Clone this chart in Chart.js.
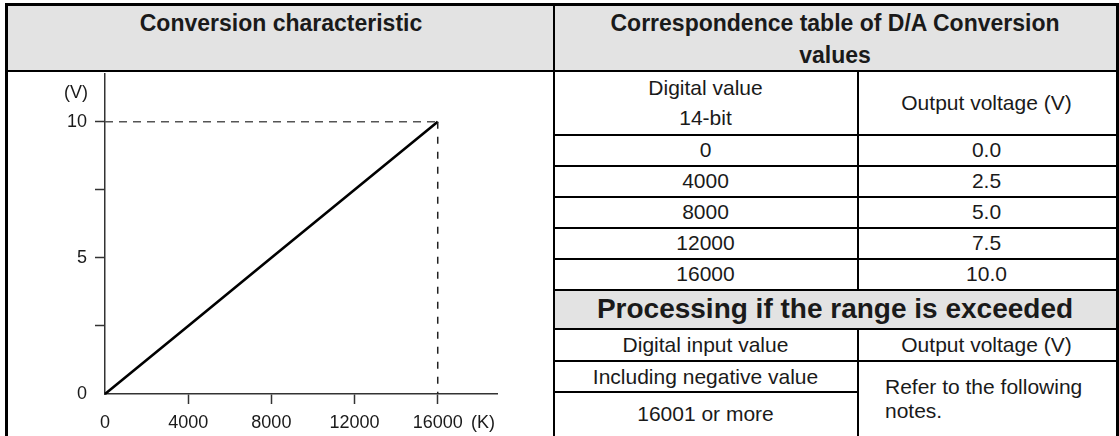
<!DOCTYPE html>
<html>
<head>
<meta charset="utf-8">
<script src="https://cdn.jsdelivr.net/npm/chart.js@4/dist/chart.umd.min.js"></script>
<style>
  body { margin: 0; background: #fff; font-family: "Liberation Sans", Arial, sans-serif; color: #1a1a1a; }
  .abs { position: absolute; }
  .line { position: absolute; background: #000; }
  .fill { position: absolute; background: #e3e3e3; }
  .cell { position: absolute; display: flex; align-items: center; justify-content: center; text-align: center; font-size: 21px; white-space: nowrap; }
  .bold { font-weight: bold; font-size: 23px; }
  #plot { position: absolute; left: 8px; top: 72px; }
</style>
</head>
<body>
<div id="table"></div>
<canvas id="plot" width="545" height="364"></canvas>
<div class="abs" style="left:40px;top:82px;width:48px;text-align:right;font-size:18px;">(V)</div>
<div class="abs" style="left:471px;top:412px;font-size:18px;">(K)</div>
<script>
// D/A conversion: digital value (14-bit) -> output voltage
const digitalValues = [0, 4000, 8000, 12000, 16000];
const outputVoltages = [0.0, 2.5, 5.0, 7.5, 10.0];

const xTicks = [0, 4000, 8000, 12000, 16000];
const yTicks = [0, 2.5, 5, 7.5, 10];
const yTickLabels = { 0: '0', 5: '5', 10: '10' };

const rangeRows = ['Including negative value', '16001 or more'];

const FONT = '"Liberation Sans", Arial, sans-serif';

// --- table frame ---
const table = document.getElementById('table');
function box(cls, x, y, w, h, html) {
    const d = document.createElement('div');
    d.className = cls;
    d.style.left = x + 'px';
    d.style.top = y + 'px';
    d.style.width = w + 'px';
    d.style.height = h + 'px';
    if (html !== undefined) d.innerHTML = html;
    table.appendChild(d);
    return d;
}

const L = 5, R = 1119, MID = 554, SUB = 857;
const rowTops = [134, 165, 196, 227, 258, 289];

// grey header backgrounds
box('fill', L, 3, R - L, 68);
box('fill', MID, 289, R - MID, 40);

// header texts
box('cell bold', L + 3, 7, MID - L - 3, 32, 'Conversion characteristic');
const h2 = box('cell bold', MID, 7, R - MID - 3, 64, 'Correspondence table of D/A Conversion<br>values');
h2.style.lineHeight = '32px';
h2.style.alignItems = 'flex-start';

// column header of the value table
const dv = box('cell', MID, 71, SUB - MID, 63, 'Digital value<br>14-bit');
dv.style.lineHeight = '30px';
box('cell', SUB, 71, R - 3 - SUB, 63, 'Output voltage (V)');

// value rows
digitalValues.forEach((v, i) => {
    box('cell', MID, rowTops[i], SUB - MID, 31, String(v));
    box('cell', SUB, rowTops[i], R - 3 - SUB, 31, outputVoltages[i].toFixed(1));
});

// out-of-range section
const proc = box('cell bold', MID, 289, R - 3 - MID, 40, 'Processing if the range is exceeded');
proc.style.fontSize = '28px';
box('cell', MID, 329, SUB - MID, 32, 'Digital input value');
box('cell', SUB, 329, R - 3 - SUB, 32, 'Output voltage (V)');
box('cell', MID, 361, SUB - MID, 31, rangeRows[0]);
box('cell', MID, 392, SUB - MID, 44, rangeRows[1]);
const note = box('cell', SUB + 28, 361, R - SUB - 40, 75, 'Refer to the following<br>notes.');
note.style.justifyContent = 'flex-start';
note.style.textAlign = 'left';
note.style.lineHeight = '24px';

// lines
box('line', L, 3, R - L, 3);
box('line', L, 3, 3, 433);
box('line', R - 3, 3, 3, 433);
box('line', L, 70, R - L, 2);
box('line', MID - 1, 3, 2, 433);
rowTops.forEach(y => box('line', MID, y, R - MID, 1.5));
box('line', MID, 328, R - MID, 1.5);
box('line', MID, 360, R - MID, 1.5);
box('line', MID, 391, SUB - MID, 1.5);
box('line', SUB, 71, 1.5, 218);
box('line', SUB, 329, 1.5, 107);

// --- conversion characteristic ---
const conversion = digitalValues.map((v, i) => ({ x: v, y: outputVoltages[i] }));
const full = conversion[conversion.length - 1];

const tickColor = ctx => (ctx.tick && ctx.tick.value === 0) ? 'rgba(0,0,0,0)' : '#333';

const ctx = document.getElementById('plot').getContext('2d');
new Chart(ctx, {
    type: 'line',
    data: {
        datasets: [{
            data: [{ x: 0, y: full.y }, { x: full.x, y: full.y }],
            borderColor: '#555',
            borderWidth: 1.5,
            borderDash: [8, 6],
            pointRadius: 0
        }, {
            data: [{ x: full.x, y: full.y }, { x: full.x, y: 0 }],
            borderColor: '#222',
            borderWidth: 1.5,
            borderDash: [7, 8],
            pointRadius: 0
        }, {
            data: conversion,
            borderColor: '#000',
            borderWidth: 2.6,
            pointRadius: 0,
            tension: 0
        }]
    },
    options: {
        responsive: false,
        animation: false,
        clip: false,
        layout: { padding: { top: 2, right: 56, left: 0, bottom: 0 } },
        plugins: { legend: { display: false }, tooltip: { enabled: false } },
        scales: {
            x: {
                type: 'linear',
                min: 0,
                max: 18850,
                afterBuildTicks: s => { s.ticks = xTicks.map(v => ({ value: v })); },
                afterFit: s => { s.height = 42; s.paddingLeft = 0; s.paddingRight = 0; },
                grid: { drawOnChartArea: false, drawTicks: true, tickLength: 10, tickColor: tickColor, tickWidth: 1.5 },
                border: { display: true, color: '#333', width: 1.5 },
                ticks: {
                    font: { size: 18, family: FONT },
                    color: '#1a1a1a',
                    padding: 8,
                    maxRotation: 0,
                    autoSkip: false,
                    callback: v => String(v)
                }
            },
            y: {
                type: 'linear',
                min: 0,
                max: 11.75,
                afterBuildTicks: s => { s.ticks = yTicks.map(v => ({ value: v })); },
                afterFit: s => { s.width = 97; s.paddingTop = 0; s.paddingBottom = 0; },
                grid: { drawOnChartArea: false, drawTicks: true, tickLength: 10, tickColor: tickColor, tickWidth: 1.5 },
                border: { display: true, color: '#333', width: 1.5 },
                ticks: {
                    font: { size: 18, family: FONT },
                    color: '#1a1a1a',
                    padding: 8,
                    autoSkip: false,
                    callback: v => yTickLabels[v] !== undefined ? yTickLabels[v] : ''
                }
            }
        }
    }
});
</script>
</body>
</html>
